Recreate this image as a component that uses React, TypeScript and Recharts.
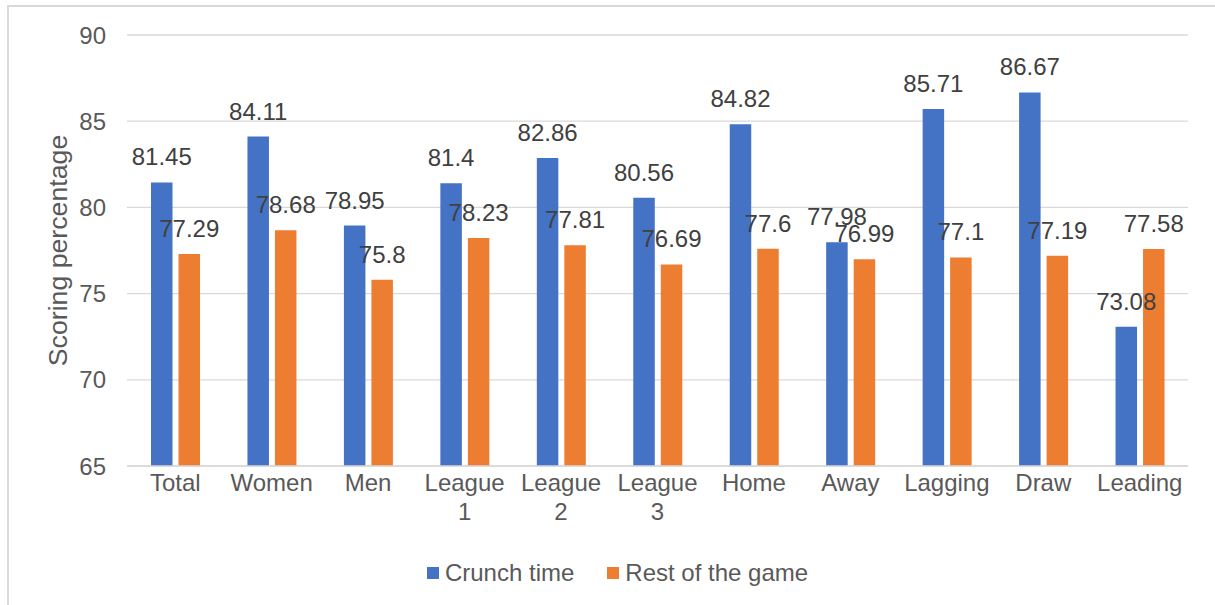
import { BarChart, Bar, XAxis, YAxis, CartesianGrid, LabelList, Label } from "recharts";

const categories = ["Total", "Women", "Men", "League 1", "League 2", "League 3", "Home", "Away", "Lagging", "Draw", "Leading"];
const crunchTime = [81.45, 84.11, 78.95, 81.4, 82.86, 80.56, 84.82, 77.98, 85.71, 86.67, 73.08];
const restOfGame = [77.29, 78.68, 75.8, 78.23, 77.81, 76.69, 77.6, 76.99, 77.1, 77.19, 77.58];
const yTicks = [65, 70, 75, 80, 85, 90];

const series = [
  { key: "crunch", name: "Crunch time", color: "#4472C4" },
  { key: "rest", name: "Rest of the game", color: "#ED7D31" },
];

const data = categories.map((name, i) => ({
  name,
  crunch: crunchTime[i],
  rest: restOfGame[i],
}));

const FONT = '"Liberation Sans", Arial, sans-serif';
const TEXT = "#595959";
const GRID = "#d9d9d9";

type TickProps = { x?: number; y?: number; payload?: { value: string } };

function CategoryTick({ x = 0, y = 0, payload }: TickProps) {
  const value = payload?.value ?? "";
  // long labels wrap onto two lines like in the original
  const lines = value.length > 7 ? value.split(" ") : [value];
  return (
    <text x={x} y={y} textAnchor="middle" fill={TEXT} fontSize={24} fontFamily={FONT}>
      {lines.map((line, i) => (
        <tspan key={i} x={x} dy={i === 0 ? 17 : 28.5}>
          {line}
        </tspan>
      ))}
    </text>
  );
}

type ViewBoxProps = { viewBox?: { x: number; y: number; width: number; height: number } };

function AxisTitle({ viewBox }: ViewBoxProps) {
  if (!viewBox) return null;
  const cx = viewBox.x + 51;
  const cy = viewBox.y + viewBox.height / 2;
  return (
    <text
      x={cx}
      y={cy}
      transform={`rotate(-90 ${cx} ${cy})`}
      textAnchor="middle"
      dominantBaseline="central"
      fill={TEXT}
      fontSize={26.7}
      fontFamily={FONT}
    >
      Scoring percentage
    </text>
  );
}

export default function App() {
  return (
    <div style={{ position: "fixed", left: 0, top: 0, width: 1215, height: 605, background: "#fff", overflow: "hidden" }}>
      <div
        style={{
          position: "absolute",
          left: 7,
          top: 5,
          width: 1300,
          height: 700,
          borderLeft: `2px solid ${GRID}`,
          borderTop: `2px solid ${GRID}`,
        }}
      />
      <div style={{ position: "absolute", left: 0, top: 0 }}>
        <BarChart
          width={1215}
          height={605}
          data={data}
          margin={{ top: 35, right: 27, bottom: 79, left: 7 }}
          barSize={21.5}
          barGap={6}
        >
          <CartesianGrid horizontal vertical={false} stroke={GRID} strokeWidth={1.3} />
          <XAxis
            dataKey="name"
            height={60}
            interval={0}
            tickLine={false}
            axisLine={{ stroke: GRID, strokeWidth: 1.3 }}
            tick={<CategoryTick />}
          />
          <YAxis
            width={120}
            domain={[65, 90]}
            ticks={yTicks}
            tickLine={false}
            axisLine={false}
            tickSize={0}
            tickMargin={21}
            tick={{ fill: TEXT, fontSize: 24, fontFamily: FONT }}
          >
            <Label content={<AxisTitle />} />
          </YAxis>
          {series.map((s) => (
            <Bar key={s.key} dataKey={s.key} name={s.name} fill={s.color} isAnimationActive={false}>
              <LabelList
                dataKey={s.key}
                position="top"
                offset={17}
                fill="#404040"
                fontSize={24}
                fontFamily={FONT}
              />
            </Bar>
          ))}
        </BarChart>
      </div>
      <div
        style={{
          position: "absolute",
          left: 10,
          top: 558,
          width: 1215,
          display: "flex",
          justifyContent: "center",
          gap: 33,
          fontFamily: FONT,
          fontSize: 24,
          color: TEXT,
          lineHeight: "30px",
        }}
      >
        {series.map((s) => (
          <span key={s.key} style={{ display: "flex", alignItems: "center", gap: 6 }}>
            <span style={{ width: 12, height: 12, background: s.color, display: "inline-block" }} />
            {s.name}
          </span>
        ))}
      </div>
    </div>
  );
}
